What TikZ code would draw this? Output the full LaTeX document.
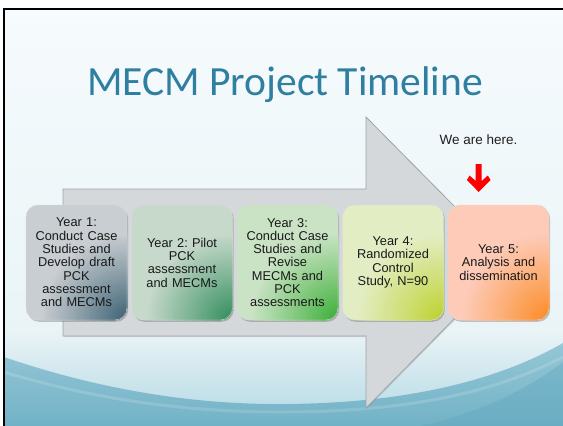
\documentclass[tikz,border=0pt]{standalone}
\usepackage{fontspec}
\setmainfont{Liberation Sans}
\newfontfamily\headfont{Carlito}
\usetikzlibrary{shadows}
\frenchspacing

% slide colours
\definecolor{slidetop}{HTML}{F6FBFD}
\definecolor{slidemid}{HTML}{EAF4F7}
\definecolor{skylow}{HTML}{B3D8E3}
\definecolor{swoopA}{HTML}{95C7D6}
\definecolor{swoopB}{HTML}{72B2C6}
\definecolor{swoopC}{HTML}{5FA6BE}
\definecolor{titleblue}{HTML}{2F7FA0}
\definecolor{arrowgray}{HTML}{D5D8DA}
\definecolor{arrowedge}{HTML}{A0A4A7}
\definecolor{hereRed}{HTML}{FF0000}

% year box colours: light body, dark corner glow
\definecolor{onelt}{HTML}{C9CED2}   \definecolor{onedk}{HTML}{3A6072}
\definecolor{twolt}{HTML}{C6D9CB}   \definecolor{twodk}{HTML}{2E8C5A}
\definecolor{threelt}{HTML}{C9E3C4} \definecolor{threedk}{HTML}{38AE34}
\definecolor{fourlt}{HTML}{E3EDC3}  \definecolor{fourdk}{HTML}{BCD12A}
\definecolor{fivelt}{HTML}{FDCBB8}  \definecolor{fivedk}{HTML}{FC8A22}

\tikzset{
  % rounded year box whose lower right corner glows in a darker tone
  yearbox/.style 2 args={
    draw=black!14, line width=0.4pt, fill=#1,
    rounded corners=12pt,
    minimum width=101pt, minimum height=115pt,
    text width=97pt, align=center, inner sep=0pt,
    font=\fontsize{12.8}{13.3}\selectfont, text=black!90,
    drop shadow={shadow xshift=1.2pt, shadow yshift=-1.8pt, opacity=0.3, fill=black!70},
    path picture={
      \foreach \k in {0,...,43} {
        \pgfmathsetmacro{\rr}{88-2*\k}
        \pgfmathtruncatemacro{\pp}{100*(1-\rr/88)^1.05}
        \fill[#2!\pp!#1] (path picture bounding box.south east) circle (\rr pt);
      }
    }
  },
  titletext/.style={font=\headfont\fontsize{41.5}{48}\selectfont, text=titleblue, inner sep=0pt},
  notetext/.style={font=\fontsize{13.5}{16}\selectfont, text=black!88, inner sep=0pt},
}

\begin{document}
\begin{tikzpicture}[x=1pt, y=-1pt]
  \useasboundingbox (0,0) rectangle (563,426);
  \fill[white] (0,0) rectangle (563,426);

  % slide background
  \shade[top color=slidetop, bottom color=slidemid] (4,9) rectangle (563,330.5);
  \shade[top color=slidemid, bottom color=skylow] (4,330) rectangle (563,426);
  \shade[top color=swoopA, bottom color=swoopB]
    (4,357) .. controls (80,383) and (170,403) .. (270,404)
    .. controls (390,405) and (490,385) .. (563,343) -- (563,426) -- (4,426) -- cycle;
  \draw[white, opacity=0.15, line width=3pt]
    (4,372) .. controls (90,398) and (180,412) .. (280,412)
    .. controls (400,412) and (490,395) .. (563,357);
  \fill[swoopC, opacity=0.4]
    (563,362) .. controls (520,395) and (470,415) .. (420,426) -- (563,426) -- cycle;

  % slide frame
  \draw[line width=2.6pt, line join=miter] (4,432) -- (4,9) -- (570,9);

  % title
  \node[titletext, anchor=base] (title) at (285,95) {MECM Project Timeline};

  % big timeline arrow
  \path[fill=arrowgray, draw=arrowedge, line width=0.8pt, line join=miter,
        drop shadow={shadow xshift=1pt, shadow yshift=-1pt, opacity=0.25}]
    (63,189) -- (366,189) -- (366,117) -- (510,262.5) -- (366,408) -- (366,336) -- (63,336) -- cycle;

  % year boxes
  \node[yearbox={onelt}{onedk}] (y1) at (76.5,262.5)
    {Year 1:\\Conduct Case\\Studies and\\Develop draft\\PCK\\assessment\\and MECMs};
  \node[yearbox={twolt}{twodk}] (y2) at (182,262.5)
    {Year 2: Pilot\\PCK\\assessment\\and MECMs};
  \node[yearbox={threelt}{threedk}] (y3) at (287.5,262.5)
    {Year 3:\\Conduct Case\\Studies and\\Revise\\MECMs and\\PCK\\assessments};
  \node[yearbox={fourlt}{fourdk}] (y4) at (393,262.5)
    {Year 4:\\Randomized\\Control\\Study, N=90};
  \node[yearbox={fivelt}{fivedk}] (y5) at (498.5,262.5)
    {Year 5:\\Analysis and\\dissemination};

  % current position marker
  \node[notetext, anchor=base] (here) at (478.5,144) {We are here.};
  \fill[hereRed]
    (475.7,164) -- (481.7,164) -- (481.7,181) -- (487.8,175.5) -- (490.5,180)
    -- (478.7,192) -- (466.9,180) -- (469.6,175.5) -- (475.7,181) -- cycle;
\end{tikzpicture}
\end{document}
